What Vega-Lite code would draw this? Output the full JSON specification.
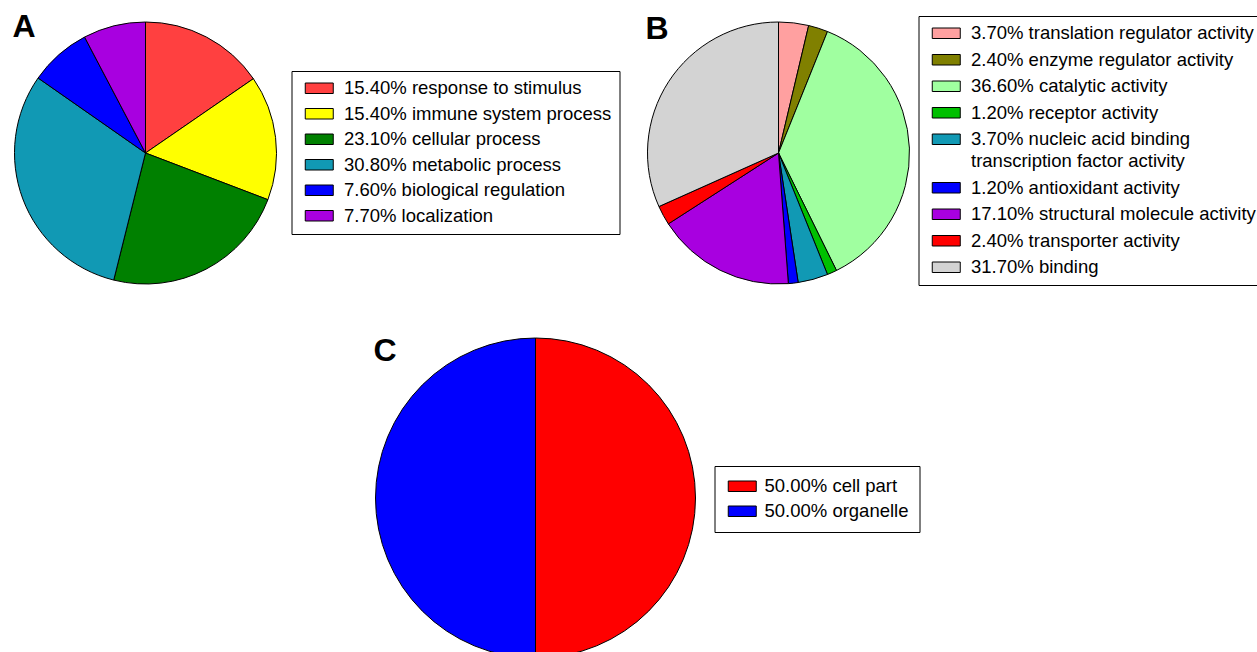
{
  "$schema": "https://vega.github.io/schema/vega-lite/v6.json",
  "padding": {"left": 12.5, "top": 11, "right": 0, "bottom": 0},
  "background": "white",
  "bounds": "flush",
  "spacing": 316,
  "config": {
    "view": {"stroke": null},
    "font": "Liberation Sans",
    "title": {"anchor": "start", "frame": "group", "fontSize": 32, "fontWeight": "bold", "font": "Liberation Sans", "baseline": "alphabetic", "offset": 0, "color": "black"},
    "legend": {
      "orient": "none",
      "title": null,
      "strokeColor": "black",
      "strokeWidth": 1,
      "fillColor": "white",
      "padding": 8,
      "symbolType": "M-2.8,-1.05H2.8V1.05H-2.8Z",
      "symbolSize": 100,
      "symbolOffset": 10.5,
      "symbolStrokeColor": "black",
      "symbolStrokeWidth": 1,
      "symbolOpacity": 1,
      "labelFont": "Liberation Sans",
      "labelFontSize": 18.5,
      "labelColor": "black",
      "labelLimit": 600,
      "labelOffset": 15.5,
      "rowPadding": 6.5
    }
  },
  "resolve": {"scale": {"color": "independent"}, "legend": {"color": "independent"}},
  "vconcat": [
    {
      "bounds": "flush",
      "spacing": 371,
      "resolve": {"scale": {"color": "independent"}, "legend": {"color": "independent"}},
      "hconcat": [
        {
          "width": 262,
          "height": 262,
          "title": {"text": "A", "dx": -2, "dy": 28},
          "data": {"values": [
            {"k": 1, "cat": "15.40% response to stimulus", "pct": 15.4},
            {"k": 2, "cat": "15.40% immune system process", "pct": 15.4},
            {"k": 3, "cat": "23.10% cellular process", "pct": 23.1},
            {"k": 4, "cat": "30.80% metabolic process", "pct": 30.8},
            {"k": 5, "cat": "7.60% biological regulation", "pct": 7.6},
            {"k": 6, "cat": "7.70% localization", "pct": 7.7}
          ]},
          "mark": {"type": "arc", "stroke": "black", "strokeWidth": 1},
          "encoding": {
            "theta": {"field": "pct", "type": "quantitative", "stack": true},
            "order": {"field": "k", "type": "quantitative"},
            "color": {
              "field": "cat", "type": "nominal", "sort": null,
              "scale": {
                "domain": ["15.40% response to stimulus", "15.40% immune system process", "23.10% cellular process", "30.80% metabolic process", "7.60% biological regulation", "7.70% localization"],
                "range": ["#FF4040", "#FFFF00", "#008000", "#1199B4", "#0000FF", "#A800E0"]
              },
              "legend": {"legendX": 277, "legendY": 49, "rowPadding": 6.5}
            }
          }
        },
        {
          "width": 262,
          "height": 262,
          "title": {"text": "B", "dx": -2, "dy": 34},
          "data": {"values": [
            {"k": 1, "cat": "3.70% translation regulator activity", "pct": 3.7},
            {"k": 2, "cat": "2.40% enzyme regulator activity", "pct": 2.4},
            {"k": 3, "cat": "36.60% catalytic activity", "pct": 36.6},
            {"k": 4, "cat": "1.20% receptor activity", "pct": 1.2},
            {"k": 5, "cat": "3.70% nucleic acid binding|transcription factor activity", "pct": 3.7},
            {"k": 6, "cat": "1.20% antioxidant activity", "pct": 1.2},
            {"k": 7, "cat": "17.10% structural molecule activity", "pct": 17.1},
            {"k": 8, "cat": "2.40% transporter activity", "pct": 2.4},
            {"k": 9, "cat": "31.70% binding", "pct": 31.7}
          ]},
          "mark": {"type": "arc", "stroke": "black", "strokeWidth": 1},
          "encoding": {
            "theta": {"field": "pct", "type": "quantitative", "stack": true},
            "order": {"field": "k", "type": "quantitative"},
            "color": {
              "field": "cat", "type": "nominal", "sort": null,
              "scale": {
                "domain": ["3.70% translation regulator activity", "2.40% enzyme regulator activity", "36.60% catalytic activity", "1.20% receptor activity", "3.70% nucleic acid binding|transcription factor activity", "1.20% antioxidant activity", "17.10% structural molecule activity", "2.40% transporter activity", "31.70% binding"],
                "range": ["#FFA0A0", "#808000", "#A0FFA0", "#00C000", "#1199B4", "#0000FF", "#A800E0", "#FF0000", "#D3D3D3"]
              },
              "legend": {
                "legendX": 271, "legendY": -6, "rowPadding": 7.5,
                "labelExpr": "split(datum.label, '|')",
                "encode": {"labels": {"update": {"lineHeight": {"value": 22}}}}
              }
            }
          }
        }
      ]
    },
    {
      "width": 1042,
      "height": 320,
      "title": {"text": "C", "dx": 359, "dy": 36},
      "data": {"values": [
        {"k": 1, "cat": "50.00% cell part", "pct": 50},
        {"k": 2, "cat": "50.00% organelle", "pct": 50}
      ]},
      "mark": {"type": "arc", "stroke": "black", "strokeWidth": 1},
      "encoding": {
        "theta": {"field": "pct", "type": "quantitative", "stack": true},
        "order": {"field": "k", "type": "quantitative"},
        "color": {
          "field": "cat", "type": "nominal", "sort": null,
          "scale": {
            "domain": ["50.00% cell part", "50.00% organelle"],
            "range": ["#FF0000", "#0000FF"]
          },
          "legend": {"legendX": 700, "legendY": 128, "rowPadding": 6, "padding": 11, "symbolOffset": 7.5, "labelOffset": 13}
        }
      }
    }
  ]
}
